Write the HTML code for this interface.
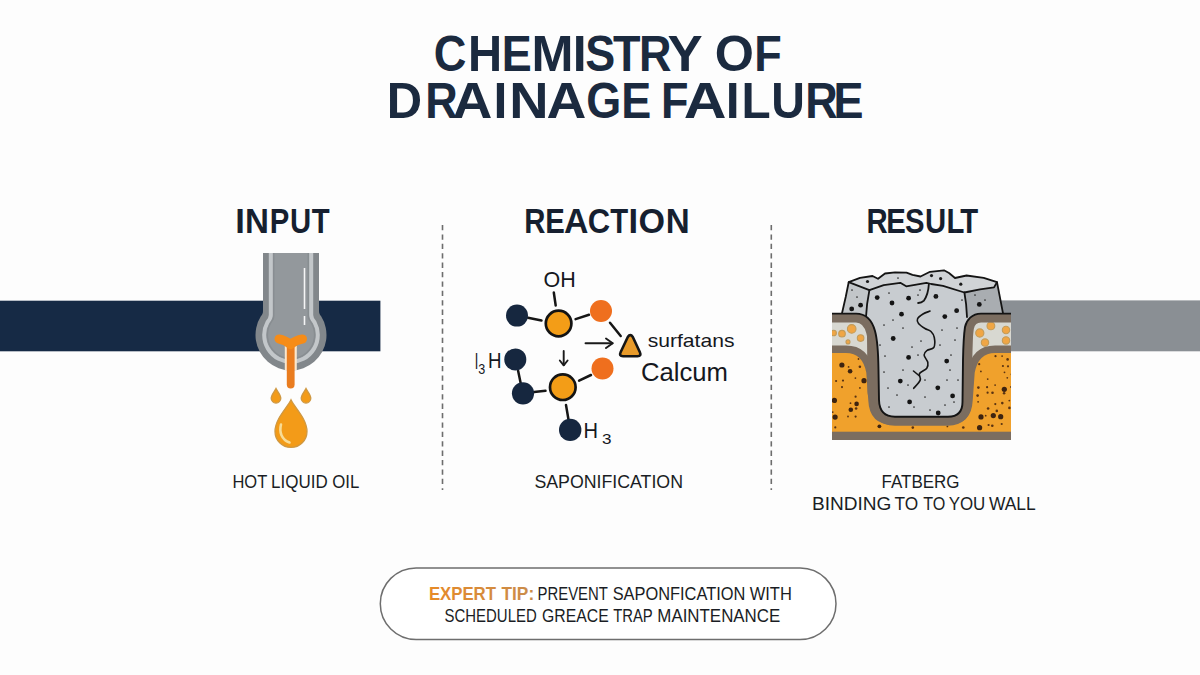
<!DOCTYPE html>
<html>
<head>
<meta charset="utf-8">
<style>
html,body{margin:0;padding:0;background:#fdfdfd;}
body{width:1200px;height:675px;overflow:hidden;position:relative;}
svg{position:absolute;left:0;top:0;display:block;}
text{font-family:"Liberation Sans", sans-serif;}
</style>
</head>
<body>
<svg width="1200" height="675" viewBox="0 0 1200 675">
  <rect x="0" y="0" width="1200" height="675" fill="#fdfdfd"/>

  <!-- TITLE -->
  <g fill="#1b2a3f" font-weight="bold" font-size="50">
    <text x="433.85" y="70.60" textLength="32.64" lengthAdjust="spacingAndGlyphs">C</text>
    <text x="468.09" y="70.60" textLength="34.09" lengthAdjust="spacingAndGlyphs">H</text>
    <text x="501.74" y="70.60" textLength="30.01" lengthAdjust="spacingAndGlyphs">E</text>
    <text x="531.63" y="70.60" textLength="41.99" lengthAdjust="spacingAndGlyphs">M</text>
    <text x="572.68" y="70.60" textLength="13.89" lengthAdjust="spacingAndGlyphs">I</text>
    <text x="585.22" y="70.60" textLength="30.01" lengthAdjust="spacingAndGlyphs">S</text>
    <text x="612.95" y="70.60" textLength="27.49" lengthAdjust="spacingAndGlyphs">T</text>
    <text x="638.96" y="70.60" textLength="32.50" lengthAdjust="spacingAndGlyphs">R</text>
    <text x="667.40" y="70.60" textLength="35.15" lengthAdjust="spacingAndGlyphs">Y</text>
    <text x="714.63" y="70.60" textLength="39.18" lengthAdjust="spacingAndGlyphs">O</text>
    <text x="754.32" y="70.60" textLength="27.49" lengthAdjust="spacingAndGlyphs">F</text>
    <text x="386.73" y="118.10" textLength="35.33" lengthAdjust="spacingAndGlyphs">D</text>
    <text x="425.21" y="118.10" textLength="32.50" lengthAdjust="spacingAndGlyphs">R</text>
    <text x="452.63" y="118.10" textLength="39.83" lengthAdjust="spacingAndGlyphs">A</text>
    <text x="493.55" y="118.10" textLength="13.89" lengthAdjust="spacingAndGlyphs">I</text>
    <text x="509.36" y="118.10" textLength="39.31" lengthAdjust="spacingAndGlyphs">N</text>
    <text x="546.63" y="118.10" textLength="39.83" lengthAdjust="spacingAndGlyphs">A</text>
    <text x="586.32" y="118.10" textLength="35.00" lengthAdjust="spacingAndGlyphs">G</text>
    <text x="621.32" y="118.10" textLength="30.01" lengthAdjust="spacingAndGlyphs">E</text>
    <text x="660.97" y="118.10" textLength="27.49" lengthAdjust="spacingAndGlyphs">F</text>
    <text x="683.83" y="118.10" textLength="42.73" lengthAdjust="spacingAndGlyphs">A</text>
    <text x="725.65" y="118.10" textLength="13.89" lengthAdjust="spacingAndGlyphs">I</text>
    <text x="741.61" y="118.10" textLength="29.16" lengthAdjust="spacingAndGlyphs">L</text>
    <text x="771.20" y="118.10" textLength="33.64" lengthAdjust="spacingAndGlyphs">U</text>
    <text x="805.16" y="118.10" textLength="32.50" lengthAdjust="spacingAndGlyphs">R</text>
    <text x="833.62" y="118.10" textLength="30.01" lengthAdjust="spacingAndGlyphs">E</text>
  </g>

  <!-- ===== INPUT GRAPHIC ===== -->
  <rect x="0" y="300.7" width="380.4" height="50.6" fill="#162a45"/>
  <!-- pipe outer -->
  <path d="M263,253 L263,311 C263,313.5 262,315 261,316 A35.5,35.5 0 1 0 321,316 C320,315 319,313.5 319,311 L319,253 Z" fill="#82878b"/>
  <!-- light stripe + inner -->
  <path d="M270.8,253 L270.8,315 C270.8,318 269,320.5 267.5,322.1 A26.8,26.8 0 1 0 314.5,322.1 C313,320.5 311.2,318 311.2,315 L311.2,253" fill="#93989c" stroke="#c3c7ca" stroke-width="4"/>
  <path d="M273.8,253 L273.8,315.7 C273.8,318.7 272.5,320.2 271.5,321.7 A23.6,23.6 0 1 0 310.5,321.7 C309.5,320.2 308.2,318.7 308.2,315.7 L308.2,253" fill="none" stroke="#888d91" stroke-width="1.4"/>
  <!-- highlight -->
  <line x1="304.5" y1="268" x2="304.5" y2="309" stroke="#f4f5f6" stroke-width="1.6"/>
  <line x1="304.5" y1="316" x2="304.5" y2="325" stroke="#f4f5f6" stroke-width="1.6"/>
  <!-- orange Y -->
  <rect x="284.8" y="346" width="12" height="24" fill="#fbe6cc"/>
  <rect x="286.8" y="342" width="7.8" height="46.5" rx="3.9" fill="#ea7d20"/>
  <path d="M279,339 Q285,340 290.5,344.5 Q296,340 302.5,339" fill="none" stroke="#f68c18" stroke-width="9" stroke-linecap="round" stroke-linejoin="round"/>
  <!-- drops -->
  <g fill="#f39b18" stroke="#cf9842" stroke-width="1.3">
    <path d="M276,388.5 C277.8,392 280.8,395 280.8,398.2 A4.8,4.8 0 0 1 271.2,398.2 C271.2,395 274.2,392 276,388.5 Z"/>
    <path d="M306,388.5 C307.8,392 310.8,395 310.8,398.2 A4.8,4.8 0 0 1 301.2,398.2 C301.2,395 304.2,392 306,388.5 Z"/>
    <path d="M291,399.8 C295,408 307,419 307,431.4 A16,16 0 0 1 275,431.4 C275,419 287,408 291,399.8 Z"/>
  </g>
  <path d="M281,424.5 C279,432 281.5,439.5 289.5,442.5" fill="none" stroke="#f8dc96" stroke-width="2.6" stroke-linecap="round"/>

  <!-- ===== REACTION GRAPHIC ===== -->
  <g stroke="#161616" stroke-width="2.5" stroke-linecap="round">
    <line x1="553.8" y1="292.5" x2="555.7" y2="305.5"/>
    <line x1="528" y1="317.8" x2="541.5" y2="320.5"/>
    <line x1="575.6" y1="319.1" x2="589" y2="314.8"/>
    <line x1="610" y1="322.7" x2="620.7" y2="336"/>
    <line x1="518.1" y1="370.8" x2="520.7" y2="383.2"/>
    <line x1="534" y1="392" x2="545.5" y2="390.8"/>
    <line x1="579.1" y1="380.7" x2="591" y2="375"/>
    <line x1="566" y1="405" x2="568.4" y2="419"/>
  </g>
  <g fill="#16273f">
    <circle cx="517" cy="315.6" r="11"/>
    <circle cx="515.3" cy="359.4" r="11"/>
    <circle cx="523" cy="393.3" r="11.1"/>
    <circle cx="570.2" cy="429.9" r="11.2"/>
  </g>
  <g fill="#f39d17" stroke="#141414" stroke-width="2.7">
    <circle cx="558.6" cy="323.5" r="12.8"/>
    <circle cx="562.8" cy="387.2" r="12.8"/>
  </g>
  <g fill="#ef6f1e">
    <circle cx="601" cy="311" r="11"/>
    <circle cx="602.5" cy="368.5" r="11"/>
  </g>
  <!-- arrows -->
  <g fill="none" stroke="#1a1a1a" stroke-width="1.9" stroke-linecap="round" stroke-linejoin="round">
    <line x1="585.5" y1="343.3" x2="612.5" y2="343.3"/>
    <polyline points="606,338.5 612.7,343.3 606,348.1"/>
    <line x1="563.7" y1="351" x2="563.7" y2="365"/>
    <polyline points="559.8,360.5 563.7,365.3 567.6,360.5"/>
  </g>
  <!-- triangle -->
  <path d="M627.8,337 Q630.3,333.2 632.8,337 L639.8,352 Q641.8,356.3 637.5,356.3 L623,356.3 Q618.7,356.3 620.7,352 Z" fill="#e99b2a" stroke="#161616" stroke-width="2.6" stroke-linejoin="round"/>
  <g fill="#15181e">
    <text x="543.5" y="287.2" font-size="22.5" textLength="32.2" lengthAdjust="spacingAndGlyphs">OH</text>
    <text x="475" y="368.5" font-size="22" textLength="3" lengthAdjust="spacingAndGlyphs">l</text>
    <text x="478.2" y="373.8" font-size="14" textLength="7" lengthAdjust="spacingAndGlyphs">3</text>
    <text x="488" y="368.3" font-size="22.5" textLength="13.5" lengthAdjust="spacingAndGlyphs">H</text>
    <text x="583.4" y="438.1" font-size="22.5" textLength="14.5" lengthAdjust="spacingAndGlyphs">H</text>
    <text x="602" y="444" font-size="15" textLength="9.5" lengthAdjust="spacingAndGlyphs">3</text>
    <text x="647.7" y="346.5" font-size="19" textLength="86.8" lengthAdjust="spacingAndGlyphs">surfatans</text>
    <text x="641" y="380.7" font-size="25.5" textLength="87" lengthAdjust="spacingAndGlyphs">Calcum</text>
  </g>

  <!-- ===== RESULT GRAPHIC ===== -->
  <defs><clipPath id="gclip"><path d="M832,313.6 L856,313.6 C866,313.6 872,320 875,331 C877.5,340 878.3,355 878.5,370 L879,400 Q879.5,416.7 895,416.7 L948,416.7 Q962.5,416.7 962.5,402 L963,360 C963.3,345 963.8,335 965,327 C966.5,320 972,313.6 981,313.6 L1011,313.6 L1011,440 L832,440 Z"/></clipPath></defs>
  <rect x="1000" y="300.4" width="200" height="50.9" fill="#8a8f94"/>
  <path d="M842,313.3 L845.7,297 L848.7,282.2 L860.0,277.8 L872.5,276.0 L878.0,278.8 L885.0,273.5 L895.0,272.4 L906.5,272.6 L912.5,274.8 L920.5,276.5 L930.0,271.8 L944.0,270.3 L949.0,273.0 L955.0,278.0 L966.5,275.5 L983.7,277.8 L997.0,282.2 L1003,313.3 L1003,330 L963,330 L962.5,402 Q962.5,416.7 948,416.7 L895,416.7 Q879.5,416.7 879,400 L878.5,330 L842,330 Z" fill="#c6cacd"/>
  <path d="M848.7,282.2 860.0,277.8 872.5,276.0 878.0,278.8 885.0,273.5 895.0,272.4 906.5,272.6 912.5,274.8 920.5,276.5 930.0,271.8 944.0,270.3 949.0,273.0 955.0,278.0 966.5,275.5 983.7,277.8 997.0,282.2 L997.0,282.2 L994.0,287.4 L980.0,289.3 L964.4,292.5 L943.0,285.8 L931.2,284.0 L926.4,282.8 L906.2,286.3 L900.3,282.8 L883.7,285.2 L869.4,290.2 L848.7,282.2 Z" fill="#d0d3d6"/>
  <path d="M842,313.3 L845.7,297 L848.7,282.2 L869.4,290.2 L866,317 Z" fill="#c2c6c9"/>
  <path d="M964.4,292.5 L980,289.3 L994,287.4 L997,282.2 L1003,313.3 L967,317 Z" fill="#a9adb1"/>
  <path d="M869.4,290.2 L869.4,290.2 L883.7,285.2 L900.3,282.8 L906.2,286.3 L926.4,282.8 L931.2,284.0 L943.0,285.8 L964.4,292.5 L967,317 L963,420 L877,420 L866,317 Z" fill="#c8ccd0"/>
  <circle cx="877.2" cy="297.6" r="2.4" fill="#141414"/>
  <circle cx="892.0" cy="303.0" r="2.4" fill="#141414"/>
  <circle cx="908.6" cy="298.2" r="2.4" fill="#141414"/>
  <circle cx="935.9" cy="296.4" r="2.4" fill="#141414"/>
  <circle cx="901.5" cy="314.2" r="2.4" fill="#141414"/>
  <circle cx="944.8" cy="316.6" r="2.4" fill="#141414"/>
  <circle cx="956.6" cy="310.7" r="2.4" fill="#141414"/>
  <circle cx="893.2" cy="338.5" r="2.4" fill="#141414"/>
  <circle cx="908.6" cy="357.4" r="2.4" fill="#141414"/>
  <circle cx="900.3" cy="381.1" r="2.4" fill="#141414"/>
  <circle cx="909.6" cy="401.9" r="2.4" fill="#141414"/>
  <circle cx="937.8" cy="387.8" r="2.4" fill="#141414"/>
  <circle cx="952.6" cy="395.9" r="2.4" fill="#141414"/>
  <circle cx="938.2" cy="413.0" r="2.4" fill="#141414"/>
  <circle cx="946.7" cy="361.1" r="2.4" fill="#141414"/>
  <circle cx="979.3" cy="304.4" r="2.4" fill="#141414"/>
  <circle cx="860.6" cy="305.2" r="2.4" fill="#141414"/>
  <circle cx="851.7" cy="308.9" r="2.4" fill="#141414"/>
  <circle cx="867.5" cy="281.5" r="1.6" fill="#1a1a1a"/>
  <circle cx="931.5" cy="275.6" r="1.6" fill="#1a1a1a"/>
  <circle cx="940.6" cy="278.6" r="1.6" fill="#1a1a1a"/>
  <circle cx="960.8" cy="284.2" r="1.6" fill="#1a1a1a"/>
  <circle cx="936.3" cy="296.3" r="1.6" fill="#1a1a1a"/>
  <circle cx="957.0" cy="310.4" r="1.6" fill="#1a1a1a"/>
  <circle cx="889.0" cy="293.0" r="0.85" fill="#2a2a2a"/>
  <circle cx="918.0" cy="295.0" r="0.85" fill="#2a2a2a"/>
  <circle cx="903.0" cy="328.0" r="0.85" fill="#2a2a2a"/>
  <circle cx="921.0" cy="341.0" r="0.85" fill="#2a2a2a"/>
  <circle cx="885.0" cy="356.0" r="0.85" fill="#2a2a2a"/>
  <circle cx="912.0" cy="347.0" r="0.85" fill="#2a2a2a"/>
  <circle cx="940.0" cy="345.0" r="0.85" fill="#2a2a2a"/>
  <circle cx="950.0" cy="370.0" r="0.85" fill="#2a2a2a"/>
  <circle cx="884.0" cy="372.0" r="0.85" fill="#2a2a2a"/>
  <circle cx="897.0" cy="395.0" r="0.85" fill="#2a2a2a"/>
  <circle cx="925.0" cy="397.0" r="0.85" fill="#2a2a2a"/>
  <circle cx="945.0" cy="405.0" r="0.85" fill="#2a2a2a"/>
  <circle cx="889.0" cy="407.0" r="0.85" fill="#2a2a2a"/>
  <circle cx="930.0" cy="410.0" r="0.85" fill="#2a2a2a"/>
  <circle cx="958.0" cy="380.0" r="0.85" fill="#2a2a2a"/>
  <circle cx="955.0" cy="340.0" r="0.85" fill="#2a2a2a"/>
  <circle cx="884.0" cy="325.0" r="0.85" fill="#2a2a2a"/>
  <circle cx="914.0" cy="407.0" r="0.85" fill="#2a2a2a"/>
  <circle cx="947.0" cy="380.0" r="0.85" fill="#2a2a2a"/>
  <circle cx="962.0" cy="300.0" r="0.85" fill="#2a2a2a"/>
  <circle cx="985.0" cy="300.0" r="0.85" fill="#2a2a2a"/>
  <circle cx="975.0" cy="295.0" r="0.85" fill="#2a2a2a"/>
  <circle cx="898.0" cy="278.0" r="0.85" fill="#2a2a2a"/>
  <circle cx="852.0" cy="290.0" r="0.85" fill="#2a2a2a"/>
  <circle cx="857.0" cy="297.0" r="0.85" fill="#2a2a2a"/>
  <circle cx="880.0" cy="345.0" r="0.85" fill="#2a2a2a"/>
  <circle cx="903.0" cy="370.0" r="0.85" fill="#2a2a2a"/>
  <circle cx="925.0" cy="380.0" r="0.85" fill="#2a2a2a"/>
  <circle cx="942.0" cy="330.0" r="0.85" fill="#2a2a2a"/>
  <circle cx="951.0" cy="355.0" r="0.85" fill="#2a2a2a"/>
  <circle cx="888.0" cy="388.0" r="0.85" fill="#2a2a2a"/>
  <circle cx="918.0" cy="355.0" r="0.85" fill="#2a2a2a"/>
  <circle cx="893.0" cy="320.0" r="0.85" fill="#2a2a2a"/>
  <circle cx="920.0" cy="290.0" r="0.85" fill="#2a2a2a"/>
  <circle cx="957.0" cy="328.0" r="0.85" fill="#2a2a2a"/>
  <circle cx="954.0" cy="402.0" r="0.85" fill="#2a2a2a"/>
  <circle cx="875.0" cy="410.0" r="0.85" fill="#2a2a2a"/>
  <circle cx="908.0" cy="385.0" r="0.85" fill="#2a2a2a"/>
  <g fill="none" stroke="#141414" stroke-width="1.8" stroke-linejoin="round" stroke-linecap="round">
    <polyline points="842,313.3 845.7,297 848.7,282.2 860.0,277.8 872.5,276.0 878.0,278.8 885.0,273.5 895.0,272.4 906.5,272.6 912.5,274.8 920.5,276.5 930.0,271.8 944.0,270.3 949.0,273.0 955.0,278.0 966.5,275.5 983.7,277.8 997.0,282.2 1003,313.3"/>
    <polyline points="848.7,282.2 869.4,290.2 883.7,285.2 900.3,282.8 906.2,286.3 926.4,282.8 931.2,284.0 943.0,285.8 964.4,292.5 980.0,289.3 994.0,287.4 997.0,282.2"/>
    <polyline points="869.4,290.2 867.1,304.1 866,316.9"/>
    <polyline points="964.4,292.5 966.1,304.1 967,317"/>
    <path d="M928.8,284.6 C928.5,290 927.6,295 924,300.6 C922,302.5 920,303 918.1,303"/>
    <path d="M930.0,311.1 C928.8,311.6 925.1,312.7 923.0,314.0 C920.9,315.3 918.2,317.4 917.5,319.0 C916.8,320.6 917.2,321.9 918.5,323.5 C919.8,325.1 922.9,327.2 925.0,328.5 C927.1,329.8 929.5,330.0 931.0,331.5 C932.5,333.0 933.8,334.8 934.3,337.5 C934.8,340.2 935.0,345.4 933.8,347.5 C932.6,349.6 928.7,349.1 927.1,350.4 C925.5,351.6 924.0,353.0 924.1,355.0 C924.2,357.0 927.3,360.1 927.8,362.3 C928.2,364.5 928.2,366.3 926.8,368.2 C925.4,370.1 920.6,371.5 919.5,373.5 C918.4,375.5 921.2,377.6 920.2,380.1 C919.2,382.6 914.8,386.9 913.7,388.3" stroke-width="1.6"/>
    <path d="M913.5,371 L919.5,376" stroke-width="1.6"/>
  </g>
  <g clip-path="url(#gclip)">
    <rect x="832" y="300" width="179" height="140" fill="#f0a12c"/>
    <path d="M832,349.2 L846,349.2 C858,349.2 867,356 870,372 L872,400 Q873,422 895,421 L948,421 Q968,421 969,400 L971,372 C974,356 983,349.2 995,349.2 L1011,349.2 L1011,300 L832,300 Z" fill="#d8d8d1"/>
    <circle cx="851.7" cy="328.9" r="4.3" fill="#f0a645" stroke="#c39b58" stroke-width="1.1"/>
    <circle cx="842.0" cy="333.7" r="3.3" fill="#f0a645" stroke="#c39b58" stroke-width="1.1"/>
    <circle cx="833.6" cy="333.0" r="2.8" fill="#f0a645" stroke="#c39b58" stroke-width="1.1"/>
    <circle cx="860.6" cy="338.1" r="3.3" fill="#f0a645" stroke="#c39b58" stroke-width="1.1"/>
    <circle cx="848.0" cy="341.9" r="2.0" fill="#f0a645" stroke="#c39b58" stroke-width="1.1"/>
    <circle cx="979.8" cy="333.0" r="4.1" fill="#f0a645" stroke="#c39b58" stroke-width="1.1"/>
    <circle cx="990.9" cy="325.9" r="3.9" fill="#f0a645" stroke="#c39b58" stroke-width="1.1"/>
    <circle cx="1006.0" cy="330.0" r="3.7" fill="#f0a645" stroke="#c39b58" stroke-width="1.1"/>
    <circle cx="985.0" cy="342.6" r="3.7" fill="#f0a645" stroke="#c39b58" stroke-width="1.1"/>
    <circle cx="1006.0" cy="340.4" r="3.7" fill="#f0a645" stroke="#c39b58" stroke-width="1.1"/>
    <circle cx="858.5" cy="359.0" r="0.90" fill="#5a3312"/>
    <circle cx="977.7" cy="355.2" r="1.10" fill="#5a3312"/>
    <circle cx="995.5" cy="356.2" r="1.10" fill="#5a3312"/>
    <circle cx="1002.1" cy="356.1" r="0.90" fill="#5a3312"/>
    <circle cx="1007.6" cy="359.4" r="1.30" fill="#5a3312"/>
    <circle cx="848.6" cy="366.9" r="0.90" fill="#5a3312"/>
    <circle cx="859.9" cy="366.8" r="1.30" fill="#5a3312"/>
    <circle cx="979.2" cy="364.2" r="1.10" fill="#5a3312"/>
    <circle cx="1002.9" cy="366.0" r="1.10" fill="#5a3312"/>
    <circle cx="1008.0" cy="366.3" r="1.10" fill="#5a3312"/>
    <circle cx="980.9" cy="371.4" r="0.90" fill="#5a3312"/>
    <circle cx="1004.5" cy="372.3" r="0.90" fill="#5a3312"/>
    <circle cx="1011.5" cy="374.4" r="0.90" fill="#5a3312"/>
    <circle cx="836.1" cy="381.0" r="1.10" fill="#5a3312"/>
    <circle cx="843.0" cy="380.6" r="1.10" fill="#5a3312"/>
    <circle cx="855.4" cy="378.1" r="0.90" fill="#5a3312"/>
    <circle cx="987.7" cy="379.1" r="0.90" fill="#5a3312"/>
    <circle cx="1007.3" cy="377.8" r="0.90" fill="#5a3312"/>
    <circle cx="842.0" cy="387.1" r="1.10" fill="#5a3312"/>
    <circle cx="859.9" cy="387.9" r="0.90" fill="#5a3312"/>
    <circle cx="978.4" cy="387.6" r="1.30" fill="#5a3312"/>
    <circle cx="987.1" cy="387.2" r="1.10" fill="#5a3312"/>
    <circle cx="995.1" cy="385.1" r="0.90" fill="#5a3312"/>
    <circle cx="1011.2" cy="387.0" r="1.10" fill="#5a3312"/>
    <circle cx="855.6" cy="396.7" r="1.10" fill="#5a3312"/>
    <circle cx="977.6" cy="395.6" r="1.30" fill="#5a3312"/>
    <circle cx="987.6" cy="392.7" r="1.10" fill="#5a3312"/>
    <circle cx="992.5" cy="392.8" r="1.30" fill="#5a3312"/>
    <circle cx="1004.1" cy="393.2" r="1.30" fill="#5a3312"/>
    <circle cx="850.5" cy="403.2" r="0.90" fill="#5a3312"/>
    <circle cx="978.1" cy="401.8" r="0.90" fill="#5a3312"/>
    <circle cx="995.3" cy="404.1" r="1.10" fill="#5a3312"/>
    <circle cx="1002.3" cy="403.1" r="1.30" fill="#5a3312"/>
    <circle cx="1009.3" cy="400.6" r="0.90" fill="#5a3312"/>
    <circle cx="832.7" cy="412.1" r="0.90" fill="#5a3312"/>
    <circle cx="856.1" cy="408.5" r="1.30" fill="#5a3312"/>
    <circle cx="988.1" cy="408.5" r="1.30" fill="#5a3312"/>
    <circle cx="996.8" cy="410.9" r="1.30" fill="#5a3312"/>
    <circle cx="1009.4" cy="407.9" r="1.30" fill="#5a3312"/>
    <circle cx="848.0" cy="416.5" r="0.90" fill="#5a3312"/>
    <circle cx="855.6" cy="416.6" r="1.10" fill="#5a3312"/>
    <circle cx="985.7" cy="415.7" r="0.90" fill="#5a3312"/>
    <circle cx="835.3" cy="427.4" r="1.10" fill="#5a3312"/>
    <circle cx="912.8" cy="427.6" r="1.30" fill="#5a3312"/>
    <circle cx="947.4" cy="426.4" r="0.90" fill="#5a3312"/>
    <circle cx="963.3" cy="427.5" r="1.30" fill="#5a3312"/>
    <circle cx="988.6" cy="425.0" r="1.10" fill="#5a3312"/>
    <circle cx="992.3" cy="425.8" r="1.30" fill="#5a3312"/>
    <circle cx="1001.7" cy="424.0" r="1.10" fill="#5a3312"/>
    <circle cx="841.9" cy="365.0" r="2.60" fill="#3e2410"/>
    <circle cx="850.1" cy="371.2" r="2.30" fill="#3e2410"/>
    <circle cx="864.0" cy="380.7" r="2.60" fill="#3e2410"/>
    <circle cx="1004.3" cy="389.3" r="2.60" fill="#3e2410"/>
    <circle cx="834.4" cy="400.4" r="2.60" fill="#3e2410"/>
    <circle cx="856.6" cy="403.9" r="2.30" fill="#3e2410"/>
    <circle cx="850.8" cy="409.8" r="2.30" fill="#3e2410"/>
    <circle cx="835.1" cy="417.1" r="2.60" fill="#3e2410"/>
    <circle cx="981.0" cy="416.9" r="2.60" fill="#3e2410"/>
    <circle cx="993.3" cy="415.6" r="2.60" fill="#3e2410"/>
    <circle cx="1000.7" cy="416.7" r="2.60" fill="#3e2410"/>
    <circle cx="879.4" cy="426.3" r="1.90" fill="#3e2410"/>
    <circle cx="979.6" cy="427.7" r="2.60" fill="#3e2410"/>
    <path d="M832,349.2 L846,349.2 C858,349.2 867,356 870,372 L872,400 Q873,422 895,421 L948,421 Q968,421 969,400 L971,372 C974,356 983,349.2 995,349.2 L1011,349.2" fill="none" stroke="#7b6d60" stroke-width="7.5"/>
    <path d="M832,313.6 L856,313.6 C866,313.6 872,320 875,331 C877.5,340 878.3,355 878.5,370 L879,400 Q879.5,416.7 895,416.7 L948,416.7 Q962.5,416.7 962.5,402 L963,360 C963.3,345 963.8,335 965,327 C966.5,320 972,313.6 981,313.6 L1011,313.6" fill="none" stroke="#7b6d60" stroke-width="18"/>
    <path d="M878.5,335 L879,392" fill="none" stroke="#7b6d60" stroke-width="23" stroke-linecap="round"/>
    <path d="M963,335 L962.5,392" fill="none" stroke="#7b6d60" stroke-width="19" stroke-linecap="round"/>
    <rect x="832" y="431.7" width="179" height="8.3" fill="#7b6d60"/>
  </g>
  <path d="M832,313.6 L856,313.6 C866,313.6 872,320 875,331 C877.5,340 878.3,355 878.5,370 L879,400 Q879.5,416.7 895,416.7 L948,416.7 Q962.5,416.7 962.5,402 L963,360 C963.3,345 963.8,335 965,327 C966.5,320 972,313.6 981,313.6 L1011,313.6" fill="none" stroke="#141414" stroke-width="1.9" stroke-linejoin="round"/>

  <!-- SECTION HEADERS -->
  <g fill="#161f2f" font-weight="bold" font-size="34.5">
    <text x="235.21" y="232.80" textLength="9.59" lengthAdjust="spacingAndGlyphs">I</text>
    <text x="244.98" y="232.80" textLength="23.95" lengthAdjust="spacingAndGlyphs">N</text>
    <text x="269.84" y="232.80" textLength="19.56" lengthAdjust="spacingAndGlyphs">P</text>
    <text x="289.93" y="232.80" textLength="21.18" lengthAdjust="spacingAndGlyphs">U</text>
    <text x="311.84" y="232.80" textLength="17.91" lengthAdjust="spacingAndGlyphs">T</text>
    <text x="524.13" y="232.80" textLength="21.18" lengthAdjust="spacingAndGlyphs">R</text>
    <text x="545.16" y="232.80" textLength="19.56" lengthAdjust="spacingAndGlyphs">E</text>
    <text x="564.06" y="232.80" textLength="24.43" lengthAdjust="spacingAndGlyphs">A</text>
    <text x="587.83" y="232.80" textLength="22.42" lengthAdjust="spacingAndGlyphs">C</text>
    <text x="610.19" y="232.80" textLength="17.91" lengthAdjust="spacingAndGlyphs">T</text>
    <text x="628.41" y="232.80" textLength="9.59" lengthAdjust="spacingAndGlyphs">I</text>
    <text x="638.50" y="232.80" textLength="26.53" lengthAdjust="spacingAndGlyphs">O</text>
    <text x="665.68" y="232.80" textLength="23.95" lengthAdjust="spacingAndGlyphs">N</text>
    <text x="866.48" y="232.80" textLength="21.18" lengthAdjust="spacingAndGlyphs">R</text>
    <text x="886.31" y="232.80" textLength="19.56" lengthAdjust="spacingAndGlyphs">E</text>
    <text x="905.12" y="232.80" textLength="19.56" lengthAdjust="spacingAndGlyphs">S</text>
    <text x="924.93" y="232.80" textLength="21.18" lengthAdjust="spacingAndGlyphs">U</text>
    <text x="946.51" y="232.80" textLength="17.91" lengthAdjust="spacingAndGlyphs">L</text>
    <text x="960.29" y="232.80" textLength="17.91" lengthAdjust="spacingAndGlyphs">T</text>
  </g>

  <!-- DIVIDERS -->
  <g stroke="#6d6d6d" stroke-width="1.6" stroke-dasharray="5.3 4.1">
    <line x1="442.5" y1="225" x2="442.5" y2="490"/>
    <line x1="771.3" y1="225" x2="771.3" y2="490"/>
  </g>

  <!-- LABELS -->
  <g fill="#1a1d24" font-size="19">
    <text x="232.39" y="487.70" textLength="34.88" lengthAdjust="spacingAndGlyphs">HOT</text>
    <text x="271.11" y="487.70" textLength="56.61" lengthAdjust="spacingAndGlyphs">LIQUID</text>
    <text x="332.31" y="487.70" textLength="27.00" lengthAdjust="spacingAndGlyphs">OIL</text>
    <text x="534.4" y="487.5" textLength="148.6" lengthAdjust="spacingAndGlyphs">SAPONIFICATION</text>
    <text x="881.5" y="487.5" textLength="78.1" lengthAdjust="spacingAndGlyphs">FATBERG</text>
    <text x="811.94" y="510.00" textLength="79.49" lengthAdjust="spacingAndGlyphs">BINDING</text>
    <text x="894.62" y="510.00" textLength="23.70" lengthAdjust="spacingAndGlyphs">TO</text>
    <text x="923.14" y="510.00" textLength="22.12" lengthAdjust="spacingAndGlyphs">TO</text>
    <text x="948.63" y="510.00" textLength="36.68" lengthAdjust="spacingAndGlyphs">YOU</text>
    <text x="988.92" y="510.00" textLength="46.85" lengthAdjust="spacingAndGlyphs">WALL</text>
  </g>

  <!-- TIP BOX -->
  <defs><linearGradient id="tipg2" gradientUnits="userSpaceOnUse" x1="430" y1="0" x2="533" y2="0"><stop offset="0" stop-color="#e68a28"/><stop offset="1" stop-color="#c98c4c"/></linearGradient></defs>
  <rect x="380.3" y="567.9" width="455.7" height="71.6" rx="35.8" ry="35.8" fill="#ffffff" stroke="#6e6e6e" stroke-width="1.5"/>
  <g font-size="19">
    <g fill="url(#tipg2)" font-weight="bold">
    <text x="428.88" y="599.50" textLength="67.10" lengthAdjust="spacingAndGlyphs">EXPERT</text>
    <text x="501.51" y="599.50" textLength="32.66" lengthAdjust="spacingAndGlyphs">TIP:</text>
    </g>
    <text fill="#1a1d24" x="537.53" y="599.50" textLength="70.42" lengthAdjust="spacingAndGlyphs">PREVENT</text>
    <text fill="#1a1d24" x="612.66" y="599.50" textLength="132.66" lengthAdjust="spacingAndGlyphs">SAPONFICATION</text>
    <text fill="#1a1d24" x="749.73" y="599.50" textLength="42.12" lengthAdjust="spacingAndGlyphs">WITH</text>
    <text fill="#1a1d24" x="444.57" y="621.50" textLength="92.14" lengthAdjust="spacingAndGlyphs">SCHEDULED</text>
    <text fill="#1a1d24" x="541.96" y="621.50" textLength="66.72" lengthAdjust="spacingAndGlyphs">GREACE</text>
    <text fill="#1a1d24" x="613.17" y="621.50" textLength="39.62" lengthAdjust="spacingAndGlyphs">TRAP</text>
    <text fill="#1a1d24" x="657.37" y="621.50" textLength="122.86" lengthAdjust="spacingAndGlyphs">MAINTENANCE</text>
  </g>
</svg>
</body>
</html>
